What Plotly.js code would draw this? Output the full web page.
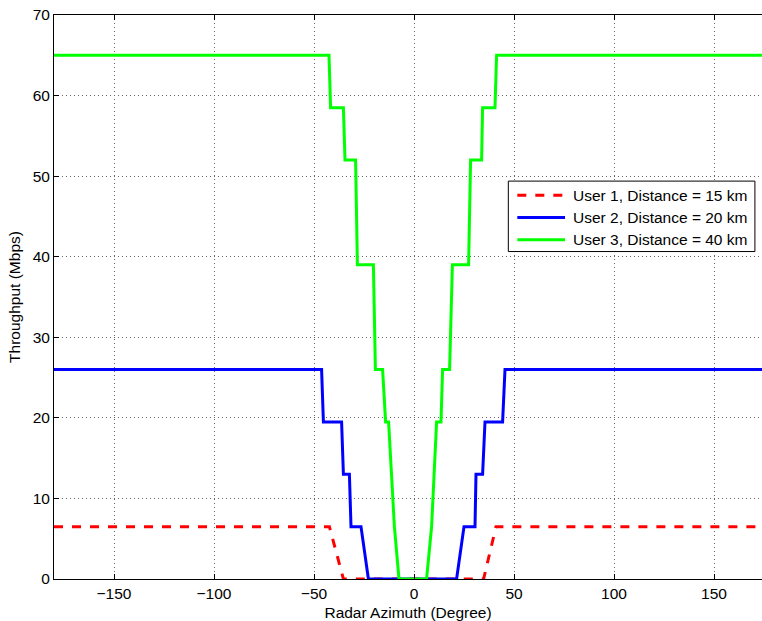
<!DOCTYPE html>
<html>
<head>
<meta charset="utf-8">
<script src="https://cdn.plot.ly/plotly-3.0.1.min.js"></script>
<style>html,body{margin:0;padding:0;background:#fff;overflow:hidden}#chart{width:762px;height:621px}</style>
</head>
<body>
<div id="chart"></div>
<script>
// Series names
const seriesNames = ['User 1, Distance = 15 km', 'User 2, Distance = 20 km', 'User 3, Distance = 40 km'];
const seriesColors = ['#ff0000', '#0000ff', '#00ff00'];
const seriesDash = ['dash', 'solid', 'solid'];
// Radar azimuth (degree) vertices and throughput (Mbps)
const user1Az = [-180, -42.3, -35.3, 34.8, 41, 180];
const user1Tp = [6.5, 6.5, 0, 0, 6.5, 6.5];
const user2Az = [-180, -46.2, -45.3, -36.2, -35.3, -32.3, -31.5, -26.5, -22.8, 21.3, 25, 30.5, 31, 34.3, 35.5, 44.3, 45.5, 180];
const user2Tp = [26, 26, 19.5, 19.5, 13, 13, 6.5, 6.5, 0, 0, 6.5, 6.5, 13, 13, 19.5, 19.5, 26, 26];
const user3Az = [-180, -42.5, -41.7, -35.3, -34.5, -29.2, -28.3, -20.3, -19.3, -15.7, -14.2, -12.7, -9.8, -7.5, 6.3, 8.8, 11.3, 13.5, 14.3, 17.8, 19.2, 27.3, 28.3, 33.8, 34.3, 40.5, 41.3, 180];
const user3Tp = [65, 65, 58.5, 58.5, 52, 52, 39, 39, 26, 26, 19.5, 19.5, 6.5, 0, 0, 6.5, 19.5, 19.5, 26, 26, 39, 39, 52, 52, 58.5, 58.5, 65, 65];
const xTicks = [-150, -100, -50, 0, 50, 100, 150];
const yTicks = [0, 10, 20, 30, 40, 50, 60, 70];

const FONT = 'Liberation Sans, Arial, Helvetica, sans-serif';
const FS = 15.5;

const azs = [user1Az, user2Az, user3Az];
const tps = [user1Tp, user2Tp, user3Tp];
const traces = azs.map((az, i) => ({
  x: az, y: tps[i], name: seriesNames[i], mode: 'lines', showlegend: false,
  line: {color: seriesColors[i], width: 3, dash: seriesDash[i]}
}));

// Custom legend (paper coordinates), box like the reference
const L = {x0: 0.6417, x1: 0.990, yTop: 0.7055, yBot: 0.5806,
           lineX0: 0.6544, lineX1: 0.7218, textX: 0.7300,
           rows: [0.6806, 0.6411, 0.6014]};
const shapes = [{type: 'rect', xref: 'paper', yref: 'paper', x0: L.x0, x1: L.x1, y0: L.yBot, y1: L.yTop,
                 line: {color: '#000', width: 1}, fillcolor: '#fff', layer: 'above'}];
const annotations = [];
seriesNames.forEach((n, i) => {
  shapes.push({type: 'line', xref: 'paper', yref: 'paper', x0: L.lineX0, x1: L.lineX1, y0: L.rows[i], y1: L.rows[i],
               line: {color: seriesColors[i], width: 3, dash: seriesDash[i]}, layer: 'above'});
  annotations.push({xref: 'paper', yref: 'paper', x: L.textX, y: L.rows[i], xanchor: 'left', yanchor: 'middle',
                    text: n, showarrow: false, font: {family: FONT, size: FS, color: '#000'}});
});

const axisCommon = {
  showline: true, linecolor: '#000', linewidth: 1,
  ticks: 'inside', ticklen: 5, tickcolor: '#000', tickwidth: 1,
  showgrid: true, gridcolor: '#666', gridwidth: 1, griddash: '1px,3px',
  zeroline: false,
  tickfont: {family: FONT, size: FS, color: '#000'}
};

const layout = {
  width: 762, height: 621,
  margin: {l: 54, r: 0, t: 15, b: 42},
  paper_bgcolor: '#fff', plot_bgcolor: '#fff',
  font: {family: FONT, size: FS, color: '#000'},
  xaxis: Object.assign({}, axisCommon, {
    range: [-180, 174], tickvals: xTicks, mirror: 'ticks',
    title: {text: 'Radar Azimuth (Degree)', font: {family: FONT, size: FS, color: '#000'}, standoff: 7}
  }),
  yaxis: Object.assign({}, axisCommon, {
    range: [0, 70], tickvals: yTicks, mirror: false,
    title: {text: 'Throughput (Mbps)', font: {family: FONT, size: FS, color: '#000'}, standoff: 8}
  }),
  showlegend: false,
  shapes: shapes,
  annotations: annotations
};

Plotly.newPlot('chart', traces, layout, {displayModeBar: false, staticPlot: true});
</script>
</body>
</html>
